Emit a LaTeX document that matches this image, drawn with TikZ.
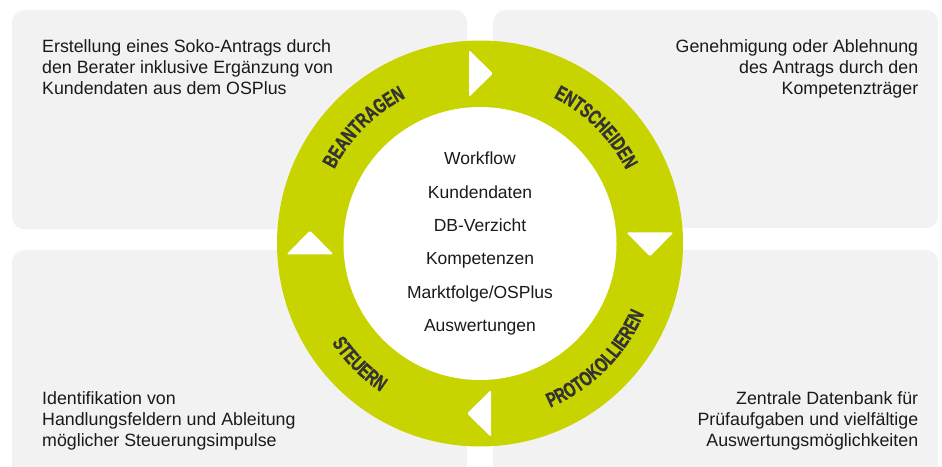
\documentclass[tikz,border=0pt]{standalone}
\usepackage{fontspec}
\setmainfont{Liberation Sans}
\newfontfamily\ringfont[FakeStretch=0.71,FakeBold=1.2]{Liberation Sans}
\usepackage{tikz}
\usetikzlibrary{positioning,decorations.text}
\definecolor{cBox}{RGB}{242,242,242}
\definecolor{cRing}{RGB}{200,212,0}
\definecolor{cLabel}{RGB}{51,51,51}
\definecolor{cText}{RGB}{26,26,26}
\newcommand{\ringfmt}{\ringfont\bfseries\fontsize{20.5}{20.5}\selectfont\color{cLabel}}

\begin{document}
\begin{tikzpicture}[
  x=1pt, y=1pt,
  node distance=17pt
]

% Stile.
\tikzset{
  feld/.style={rectangle, rounded corners=12pt, fill=cBox, inner sep=0pt, anchor=north west},
  beschr/.style={inner sep=0pt, text=cText, font=\fontsize{17.8}{21}\selectfont},
  liste/.style={inner sep=0pt, text=cText, font=\fontsize{17.5}{21}\selectfont, text height=12.5pt, text depth=3.5pt},
  pfeil/.style={fill=white, rounded corners=1.5pt},
  ringtext/.style={decorate, decoration={text along path, text align=center, text={|\ringfmt|#1}}}
}

\useasboundingbox (0,0) rectangle (942,466);

% Felder.
\node (feldLO) [feld, minimum width=455pt, minimum height=219pt] at (12,456) {};
\node (feldRO) [feld, minimum width=445pt, minimum height=218pt] at (493,456) {};
\node (feldLU) [feld, minimum width=455pt, minimum height=240pt] at (12,216) {};
\node (feldRU) [feld, minimum width=445pt, minimum height=240pt] at (493,216) {};

% Texte in den Feldern.
\node (textLO) [beschr, align=left, below right=29pt and 30pt of feldLO.north west]
  {Erstellung eines Soko-Antrags durch\\den Berater inklusive Ergänzung von\\Kundendaten aus dem OSPlus};
\node (textRO) [beschr, align=right, below left=29pt and 20pt of feldRO.north east]
  {Genehmigung oder Ablehnung\\des Antrags durch den\\Kompetenzträger};
\node (textLU) [beschr, align=left, below right=141.5pt and 30pt of feldLU.north west]
  {Identifikation von\\Handlungsfeldern und Ableitung\\möglicher Steuerungsimpulse};
\node (textRU) [beschr, align=right, below left=141.5pt and 20pt of feldRU.north east]
  {Zentrale Datenbank für\\Prüfaufgaben und vielfältige\\Auswertungsmöglichkeiten};

% Ring.
\node (ring) [circle, fill=cRing, minimum size=406pt, inner sep=0pt] at (480,222.5) {};
\node (kern) [circle, fill=white, minimum size=273pt, inner sep=0pt] at (ring.center) {};

% Pfeile im Ring.
\foreach \w in {0,-90,-180,-270}{
  \fill[pfeil, shift={(ring.center)}, rotate=\w] (-11,146.5) -- (-11,193.5) -- (13,170) -- cycle;
}

% Beschriftung im Ring.
\path[ringtext=BEANTRAGEN] ([shift={(175:163.5)}]ring.center) arc[start angle=175, end angle=95, radius=163.5];
\path[ringtext=ENTSCHEIDEN] ([shift={(85:163.5)}]ring.center) arc[start angle=85, end angle=5, radius=163.5];
\path[ringtext=STEUERN] ([shift={(185:178.5)}]ring.center) arc[start angle=185, end angle=265, radius=178.5];
\path[ringtext=PROTOKOLLIEREN] ([shift={(275:178.5)}]ring.center) arc[start angle=275, end angle=355, radius=178.5];

% Liste in der Mitte.
\node (wf) [liste, above=75pt of ring.center] {Workflow};
\node (kd) [liste, below=of wf] {Kundendaten};
\node (db) [liste, below=of kd] {DB-Verzicht};
\node (kp) [liste, below=of db] {Kompetenzen};
\node (mf) [liste, below=of kp] {Marktfolge/OSPlus};
\node (aw) [liste, below=of mf] {Auswertungen};
\end{tikzpicture}
\end{document}
